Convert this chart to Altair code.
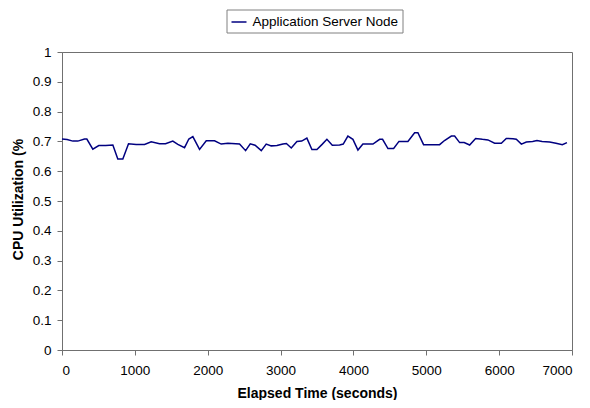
import altair as alt
import pandas as pd

series_name = "Application Server Node"

elapsed = [0, 70, 149, 217, 309, 341, 423, 505, 600, 698, 766, 835, 913, 1018, 1133,
           1224, 1339, 1421, 1521, 1590, 1682, 1741, 1796, 1888, 1980, 2094, 2185,
           2277, 2437, 2520, 2584, 2650, 2735, 2803, 2872, 2950, 3032, 3080, 3147,
           3224, 3290, 3361, 3430, 3499, 3570, 3636, 3710, 3810, 3860, 3924, 3993,
           4062, 4130, 4268, 4360, 4400, 4474, 4552, 4625, 4748, 4840, 4885, 4963,
           5183, 5250, 5344, 5389, 5458, 5520, 5595, 5677, 5770, 5846, 5938, 6030,
           6098, 6190, 6235, 6305, 6373, 6460, 6519, 6590, 6693, 6780, 6867, 6931]

cpu = [0.708, 0.706, 0.701, 0.701, 0.708, 0.708, 0.674, 0.686, 0.686, 0.688, 0.641,
       0.641, 0.692, 0.690, 0.690, 0.699, 0.692, 0.692, 0.701, 0.690, 0.679, 0.708,
       0.716, 0.673, 0.702, 0.702, 0.691, 0.694, 0.691, 0.669, 0.692, 0.687, 0.669,
       0.691, 0.685, 0.686, 0.691, 0.693, 0.678, 0.700, 0.701, 0.711, 0.673, 0.673,
       0.690, 0.707, 0.687, 0.688, 0.691, 0.718, 0.707, 0.671, 0.691, 0.691, 0.707,
       0.707, 0.676, 0.676, 0.700, 0.700, 0.729, 0.729, 0.689, 0.689, 0.703, 0.718,
       0.718, 0.696, 0.696, 0.688, 0.710, 0.707, 0.705, 0.694, 0.694, 0.710, 0.709,
       0.707, 0.691, 0.698, 0.700, 0.703, 0.700, 0.698, 0.694, 0.689, 0.696]

x_ticks = [0, 1000, 2000, 3000, 4000, 5000, 6000, 7000]
y_ticks = [0, 0.1, 0.2, 0.3, 0.4, 0.5, 0.6, 0.7, 0.8, 0.9, 1]

df = pd.DataFrame({"t": elapsed, "cpu": cpu, "series": series_name})

FONT = "Liberation Sans"
AXIS_COLOR = "#707070"

chart = alt.Chart(df).mark_line(strokeWidth=1.5, interpolate="linear").encode(
    x=alt.X("t:Q",
            scale=alt.Scale(domain=[0, 7000], nice=False, zero=True),
            axis=alt.Axis(values=x_ticks, title="Elapsed Time (seconds)", format="d",
                          titleBaseline="alphabetic", titleY=47, labelPadding=8,
                          labelFontSize=13.5, labelFont=FONT)),
    y=alt.Y("cpu:Q",
            scale=alt.Scale(domain=[0, 1], nice=False),
            axis=alt.Axis(values=y_ticks, title="CPU Utilization (%", format="~g",
                          titleX=-44, titleY=147, titleBaseline="middle", titleAlign="center",
                          labelPadding=6, labelFontSize=13.5, labelFont=FONT)),
    color=alt.Color("series:N",
                    scale=alt.Scale(domain=[series_name], range=["#000080"]),
                    legend=alt.Legend(orient="none", legendX=164.5, legendY=-42.5,
                                      title=None, symbolType="stroke",
                                      symbolStrokeWidth=1.5, symbolSize=225,
                                      labelFontSize=13.5, labelFont=FONT,
                                      labelColor="#000000", labelOffset=5,
                                      strokeColor="#808080", padding=4,
                                      fillColor="#ffffff")),
).properties(
    width=510, height=298,
    background="#ffffff",
    autosize=alt.AutoSizeParams(type="none"),
    padding={"left": 54, "top": 44, "right": 10, "bottom": 50},
).configure_view(
    stroke=AXIS_COLOR, strokeWidth=1
).configure_axis(
    grid=False, domainColor=AXIS_COLOR, tickColor=AXIS_COLOR, tickSize=5,
    labelFont=FONT, labelFontSize=13.5, labelColor="#000000",
    titleFont=FONT, titleFontSize=14, titleFontWeight="bold", titleColor="#000000",
)

chart.save("out.html", embed_options={"renderer": "svg", "actions": False})
